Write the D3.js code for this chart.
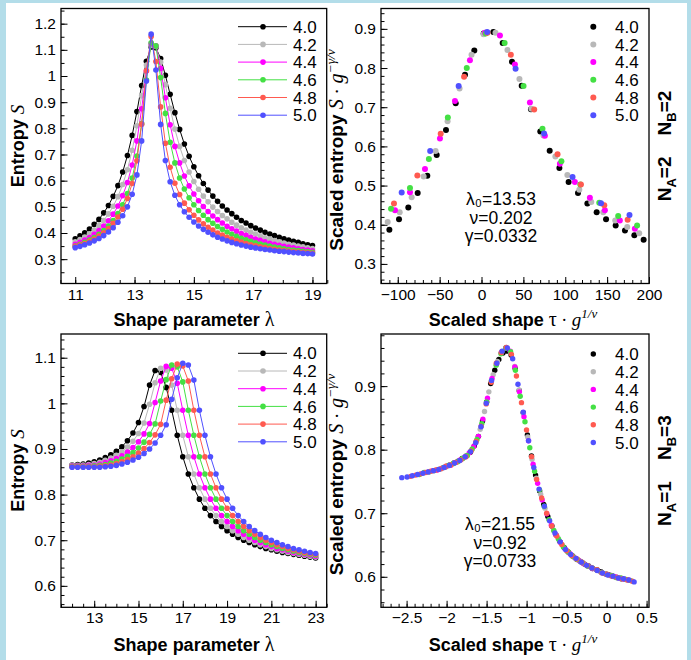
<!DOCTYPE html>
<html>
<head>
<meta charset="utf-8">
<script src="https://cdn.jsdelivr.net/npm/d3@7"></script>
<style>
body { margin: 0; background: #b3dde9; }
svg { display: block; }
text { font-family: "Liberation Sans", Arial, Helvetica, sans-serif; fill: #000; }
</style>
</head>
<body>
<svg id="chart" width="691" height="660"></svg>
<script>
// series names (legend) and colours
const seriesLabels = ['4.0', '4.2', '4.4', '4.6', '4.8', '5.0'];
const seriesColors = ['#000000', '#b8b8b8', '#ff00ff', '#44e044', '#ff5a50', '#5050ff'];

// ---- top left: entropy vs shape parameter (NA=2, NB=2)
const lambdaTop = [11.00,11.16,11.32,11.48,11.64,11.80,11.96,12.12,12.28,12.44,12.60,12.76,12.92,13.08,13.24,13.40,13.56,13.72,13.88,14.04,14.20,14.36,14.52,14.68,14.84,15.00,15.16,15.32,15.48,15.64,15.80,15.96,16.12,16.28,16.44,16.60,16.76,16.92,17.08,17.24,17.40,17.56,17.72,17.88,18.04,18.20,18.36,18.52,18.68,18.84,19.00];
const sTop40 = [.378,.389,.401,.415,.433,.452,.477,.505,.540,.581,.633,.696,.773,.864,.964,1.056,1.111,1.108,1.067,1.003,.930,.860,.796,.740,.693,.653,.619,.589,.564,.541,.521,.503,.488,.474,.460,.448,.438,.428,.419,.411,.403,.396,.390,.384,.378,.373,.368,.364,.359,.355,.352];
const sTop42 = [.366,.375,.385,.397,.411,.428,.448,.473,.502,.539,.585,.642,.716,.810,.925,1.042,1.117,1.113,1.053,.967,.877,.797,.731,.677,.633,.597,.567,.541,.519,.499,.482,.467,.454,.441,.430,.420,.411,.403,.396,.389,.382,.377,.371,.366,.362,.357,.354,.350,.347,.343,.341];
const sTop44 = [.357,.364,.373,.383,.395,.409,.427,.447,.472,.503,.543,.593,.660,.752,.875,1.019,1.123,1.115,1.029,.917,.814,.731,.668,.618,.580,.549,.523,.501,.482,.465,.451,.438,.426,.416,.407,.398,.391,.384,.377,.372,.366,.361,.357,.353,.349,.346,.343,.340,.337,.335,.332];
const sTop46 = [.350,.357,.364,.373,.383,.395,.409,.427,.448,.474,.508,.551,.610,.694,.818,.985,1.127,1.115,.994,.857,.747,.668,.610,.568,.535,.508,.486,.468,.451,.437,.425,.414,.404,.395,.387,.380,.374,.368,.363,.358,.354,.350,.346,.343,.340,.337,.335,.333,.330,.328,.326];
const sTop48 = [.348,.354,.360,.368,.377,.388,.401,.417,.437,.461,.491,.532,.589,.676,.816,1.020,1.151,1.055,.882,.743,.651,.590,.547,.514,.489,.468,.450,.435,.422,.411,.400,.392,.384,.377,.370,.365,.360,.355,.351,.347,.344,.341,.338,.335,.333,.331,.329,.327,.325,.324,.322];
const sTop50 = [.344,.349,.355,.362,.370,.379,.390,.404,.420,.441,.466,.500,.548,.622,.752,.981,1.160,1.023,.815,.677,.596,.544,.508,.481,.460,.442,.427,.414,.403,.393,.384,.377,.370,.364,.359,.354,.350,.346,.343,.340,.337,.335,.332,.330,.329,.327,.325,.324,.322,.321,.320];

// ---- top right: scaled entropy vs scaled shape [x, y]
const tr40 = [[-110,.387],[-98.5,.414],[-87.4,.444],[-76.2,.481],[-64.7,.525],[-53.5,.578],[-42.4,.642],[-30.8,.710],[-19.7,.783],[-8.6,.845],[2.6,.888],[14.1,.892],[25.3,.864],[36.4,.816],[48,.755],[59.1,.695],[70.2,.638],[81.4,.589],[93,.545],[104,.509],[115.2,.481],[126.4,.454],[137.5,.432],[148.7,.414],[160.2,.398],[171.3,.385],[182.5,.373],[193.6,.362]];
const tr42 = [[-112,.407],[-97.7,.432],[-83.4,.470],[-69.1,.523],[-54.8,.588],[-40.5,.664],[-26.2,.748],[-11.9,.834],[2.4,.886],[16.7,.890],[31,.846],[45.3,.772],[59.6,.696],[73.9,.628],[88.2,.574],[102.5,.527],[116.8,.489],[131.1,.458],[145.4,.432],[159.7,.411],[174,.394],[188.3,.378]];
const tr44 = [[-103.3,.437],[-85.4,.483],[-67.5,.542],[-49.6,.620],[-31.7,.716],[-13.8,.820],[4.1,.890],[22,.883],[39.9,.809],[57.8,.712],[75.7,.627],[93.6,.556],[111.5,.509],[129.4,.469],[147.3,.437],[165.2,.411],[183.1,.390]];
const tr46 = [[-108,.441],[-85.4,.494],[-62.8,.568],[-40.2,.674],[-17.6,.800],[5,.888],[27.6,.864],[50.2,.754],[72.8,.645],[95.4,.562],[118,.503],[140.6,.456],[163.2,.422],[185.8,.398]];
const tr48 = [[-104.5,.454],[-76.6,.526],[-48.7,.632],[-20.8,.778],[7.1,.890],[35,.834],[62.9,.694],[90.8,.580],[118.7,.503],[146.6,.450],[174.5,.413]];
const tr50 = [[-95.3,.482],[-61.3,.588],[-27.3,.754],[6.7,.892],[40.7,.798],[74.7,.633],[108.7,.522],[142.7,.455],[176.7,.425]];

// ---- bottom left: entropy vs shape parameter (NA=1, NB=3)
const lambdaBottom = [12,12.25,12.5,12.75,13,13.25,13.5,13.75,14,14.25,14.5,14.75,15,15.25,15.5,15.75,16,16.25,16.5,16.75,17,17.25,17.5,17.75,18,18.25,18.5,18.75,19,19.25,19.5,19.75,20,20.25,20.5,20.75,21,21.25,21.5,21.75,22,22.25,22.5,22.75,23];
const sBot40 = [.865,.866,.867,.869,.872,.876,.881,.887,.895,.905,.918,.935,.958,.993,1.040,1.072,1.068,1.035,.985,.930,.883,.845,.815,.790,.770,.754,.741,.730,.721,.713,.706,.700,.695,.690,.686,.682,.679,.676,.673,.671,.669,.667,.665,.663,.661];
const sBot42 = [.864,.864,.865,.866,.868,.871,.875,.880,.886,.894,.904,.917,.934,.957,.998,1.045,1.077,1.073,1.040,.985,.930,.883,.845,.815,.790,.770,.754,.741,.730,.721,.713,.706,.700,.695,.690,.686,.682,.679,.676,.673,.671,.669,.667,.665,.663];
const sBot44 = [.863,.863,.863,.864,.865,.867,.870,.874,.879,.885,.893,.903,.916,.933,.956,1.002,1.049,1.081,1.077,1.044,.985,.930,.883,.845,.815,.790,.770,.754,.741,.730,.721,.713,.706,.700,.695,.690,.686,.682,.679,.676,.673,.671,.669,.667,.665];
const sBot46 = [.862,.862,.862,.862,.863,.864,.866,.869,.873,.878,.884,.892,.902,.915,.932,.955,1.005,1.052,1.084,1.080,1.047,.985,.930,.883,.845,.815,.790,.770,.754,.741,.730,.721,.713,.706,.700,.695,.690,.686,.682,.679,.676,.673,.671,.669,.667];
const sBot48 = [.861,.861,.861,.861,.861,.862,.863,.865,.868,.872,.877,.883,.891,.901,.914,.931,.954,1.007,1.054,1.086,1.082,1.049,.985,.930,.883,.845,.815,.790,.770,.754,.741,.730,.721,.713,.706,.700,.695,.690,.686,.682,.679,.676,.673,.671,.669];
const sBot50 = [.860,.860,.860,.860,.860,.860,.861,.862,.864,.867,.871,.876,.882,.890,.900,.913,.930,.953,1.009,1.056,1.088,1.084,1.051,.985,.930,.883,.845,.815,.790,.770,.754,.741,.730,.721,.713,.706,.700,.695,.690,.686,.682,.679,.676,.673,.671];

// ---- bottom right: scaled entropy vs scaled shape [x, y]
const br40 = [[-2.010,.773],[-1.959,.776],[-1.908,.779],[-1.857,.782],[-1.806,.786],[-1.755,.790],[-1.704,.796],[-1.653,.806],[-1.602,.821],[-1.551,.845],[-1.500,.875],[-1.449,.904],[-1.398,.925],[-1.347,.942],[-1.296,.952],[-1.245,.955],[-1.194,.949],[-1.143,.928],[-1.092,.893],[-1.041,.858],[-0.990,.823],[-0.939,.790],[-0.888,.760],[-0.837,.735],[-0.786,.714],[-0.735,.695],[-0.684,.680],[-0.633,.666],[-0.582,.655],[-0.531,.646],[-0.480,.639],[-0.429,.633],[-0.378,.628],[-0.327,.624],[-0.276,.620],[-0.225,.617],[-0.174,.613],[-0.123,.611],[-0.072,.608],[-0.021,.605],[0.030,.603],[0.081,.601],[0.132,.599],[0.183,.597],[0.234,.596]];
const br42 = [[-2.120,.768],[-2.066,.770],[-2.012,.773],[-1.958,.776],[-1.904,.779],[-1.850,.782],[-1.796,.786],[-1.742,.791],[-1.688,.799],[-1.634,.812],[-1.580,.832],[-1.526,.860],[-1.472,.891],[-1.418,.918],[-1.364,.939],[-1.310,.954],[-1.256,.961],[-1.202,.954],[-1.148,.931],[-1.094,.894],[-1.040,.857],[-0.986,.820],[-0.932,.785],[-0.878,.755],[-0.824,.730],[-0.770,.708],[-0.716,.689],[-0.662,.673],[-0.608,.661],[-0.554,.650],[-0.500,.641],[-0.446,.635],[-0.392,.629],[-0.338,.625],[-0.284,.621],[-0.230,.617],[-0.176,.613],[-0.122,.611],[-0.068,.607],[-0.014,.605],[0.040,.602],[0.094,.600],[0.148,.598],[0.202,.597],[0.256,.595]];
const br44 = [[-2.230,.765],[-2.173,.767],[-2.116,.768],[-2.059,.771],[-2.002,.774],[-1.945,.776],[-1.888,.780],[-1.831,.784],[-1.774,.788],[-1.717,.795],[-1.660,.805],[-1.603,.821],[-1.546,.848],[-1.489,.881],[-1.432,.912],[-1.375,.935],[-1.318,.952],[-1.261,.960],[-1.204,.955],[-1.147,.930],[-1.090,.891],[-1.033,.852],[-0.976,.814],[-0.919,.777],[-0.862,.747],[-0.805,.721],[-0.748,.699],[-0.691,.681],[-0.634,.666],[-0.577,.654],[-0.520,.644],[-0.463,.637],[-0.406,.631],[-0.349,.626],[-0.292,.621],[-0.235,.617],[-0.178,.613],[-0.121,.611],[-0.064,.607],[-0.007,.604],[0.050,.602],[0.107,.600],[0.164,.598],[0.221,.596],[0.278,.595]];
const br46 = [[-2.34,.761],[-2.28,.764],[-2.22,.765],[-2.16,.767],[-2.10,.769],[-2.04,.772],[-1.98,.775],[-1.92,.778],[-1.86,.781],[-1.80,.786],[-1.74,.791],[-1.68,.801],[-1.62,.816],[-1.56,.841],[-1.50,.875],[-1.44,.908],[-1.38,.933],[-1.32,.951],[-1.26,.960],[-1.20,.954],[-1.14,.925],[-1.08,.884],[-1.02,.844],[-0.96,.803],[-0.90,.766],[-0.84,.737],[-0.78,.711],[-0.72,.690],[-0.66,.673],[-0.60,.659],[-0.54,.647],[-0.48,.639],[-0.42,.632],[-0.36,.627],[-0.30,.622],[-0.24,.617],[-0.18,.614],[-0.12,.611],[-0.06,.607],[0.00,.604],[0.06,.602],[0.12,.599],[0.18,.598],[0.24,.596],[0.30,.594]];
const br48 = [[-2.450,.758],[-2.387,.760],[-2.324,.762],[-2.261,.764],[-2.198,.766],[-2.135,.768],[-2.072,.770],[-2.009,.774],[-1.946,.776],[-1.883,.780],[-1.820,.784],[-1.757,.789],[-1.694,.798],[-1.631,.813],[-1.568,.837],[-1.505,.872],[-1.442,.906],[-1.379,.936],[-1.316,.953],[-1.253,.961],[-1.190,.950],[-1.127,.916],[-1.064,.874],[-1.001,.831],[-0.938,.789],[-0.875,.753],[-0.812,.724],[-0.749,.700],[-0.686,.680],[-0.623,.664],[-0.560,.651],[-0.497,.641],[-0.434,.633],[-0.371,.628],[-0.308,.623],[-0.245,.618],[-0.182,.614],[-0.119,.611],[-0.056,.606],[0.007,.604],[0.070,.601],[0.133,.599],[0.196,.597],[0.259,.595],[0.322,.593]];
const br50 = [[-2.560,.756],[-2.494,.757],[-2.428,.759],[-2.362,.761],[-2.296,.763],[-2.230,.765],[-2.164,.767],[-2.098,.769],[-2.032,.772],[-1.966,.775],[-1.900,.779],[-1.834,.783],[-1.768,.789],[-1.702,.797],[-1.636,.811],[-1.570,.836],[-1.504,.873],[-1.438,.909],[-1.372,.936],[-1.306,.955],[-1.240,.960],[-1.174,.943],[-1.108,.903],[-1.042,.859],[-0.976,.814],[-0.910,.772],[-0.844,.738],[-0.778,.711],[-0.712,.688],[-0.646,.669],[-0.580,.655],[-0.514,.643],[-0.448,.635],[-0.382,.629],[-0.316,.623],[-0.250,.618],[-0.184,.614],[-0.118,.610],[-0.052,.606],[0.014,.603],[0.080,.601],[0.146,.598],[0.212,.597],[0.278,.595],[0.344,.592]];

// tick labels
const tlXTicks = [11, 13, 15, 17, 19];
const tlYTicks = [0.3, 0.4, 0.5, 0.6, 0.7, 0.8, 0.9, 1.0, 1.1, 1.2];
const trXTicks = [-100, -50, 0, 50, 100, 150, 200];
const trYTicks = [0.3, 0.4, 0.5, 0.6, 0.7, 0.8, 0.9];
const blXTicks = [13, 15, 17, 19, 21, 23];
const blYTicks = [0.6, 0.7, 0.8, 0.9, 1.0, 1.1];
const brXTicks = [-2.5, -2, -1.5, -1, -0.5, 0, 0.5];
const brYTicks = [0.6, 0.7, 0.8, 0.9];

const svg = d3.select('#chart');
svg.append('rect').attr('x', 6).attr('y', 3).attr('width', 681).attr('height', 657).attr('fill', '#fff');

const fmt = d3.format('~g');

function zip(xs, ys) { return xs.map((v, i) => [v, ys[i]]); }

function drawPanel(p) {
  const g = svg.append('g');
  const x = d3.scaleLinear().domain(p.xDomain).range([p.x0, p.x1]);
  const y = d3.scaleLinear().domain(p.yDomain).range([p.y1, p.y0]);

  // minor ticks first, then the labelled ones
  g.append('g').attr('transform', `translate(0,${p.y1})`)
    .call(d3.axisBottom(x).tickValues(p.xMinor).tickSize(-3.5).tickSizeOuter(0).tickFormat(''));
  g.append('g').attr('transform', `translate(${p.x0},0)`)
    .call(d3.axisLeft(y).tickValues(p.yMinor).tickSize(-3.5).tickSizeOuter(0).tickFormat(''));
  g.append('g').attr('transform', `translate(0,${p.y1})`)
    .call(d3.axisBottom(x).tickValues(p.xTicks).tickSize(-6.5).tickSizeOuter(0).tickPadding(5).tickFormat(fmt));
  g.append('g').attr('transform', `translate(${p.x0},0)`)
    .call(d3.axisLeft(y).tickValues(p.yTicks).tickSize(-6.5).tickSizeOuter(0).tickPadding(5).tickFormat(fmt));
  g.selectAll('.domain').remove();
  g.selectAll('.tick line').attr('stroke', '#000').attr('stroke-width', 1);
  g.selectAll('.tick text').attr('font-size', 15.5).attr('font-family', '"Liberation Sans", Arial, sans-serif');

  p.series.forEach((pts, k) => {
    if (p.lines) {
      g.append('path').datum(pts)
        .attr('fill', 'none').attr('stroke', seriesColors[k]).attr('stroke-width', 1)
        .attr('d', d3.line().x(d => x(d[0])).y(d => y(d[1])));
    }
    g.append('g').selectAll('circle').data(pts).join('circle')
      .attr('cx', d => x(d[0])).attr('cy', d => y(d[1])).attr('r', p.r)
      .attr('fill', seriesColors[k]);
  });

  // legend
  const lg = g.append('g');
  seriesLabels.forEach((lab, k) => {
    const yy = p.legY + k * 17.7;
    if (p.lines) {
      lg.append('line').attr('x1', p.legX - 25).attr('x2', p.legX + 24).attr('y1', yy).attr('y2', yy)
        .attr('stroke', seriesColors[k]).attr('stroke-width', 1);
    }
    lg.append('circle').attr('cx', p.legX).attr('cy', yy).attr('r', p.r).attr('fill', seriesColors[k]);
    lg.append('text').attr('x', p.legText).attr('y', yy).attr('dy', '0.36em')
      .attr('font-size', 17).text(lab);
  });

  g.append('rect').attr('x', p.x0).attr('y', p.y0)
    .attr('width', p.x1 - p.x0).attr('height', p.y1 - p.y0)
    .attr('fill', 'none').attr('stroke', '#000').attr('stroke-width', 1.3);
  return g;
}

const topY0 = 8.5, topY1 = 283.5, botY0 = 334, botY1 = 607.3;

drawPanel({
  x0: 61, x1: 326.7, y0: topY0, y1: topY1,
  xDomain: [10.52, 19.48], yDomain: [0.207, 1.258],
  xTicks: tlXTicks, yTicks: tlYTicks,
  xMinor: d3.range(10.5, 19.6, 0.5), yMinor: d3.range(0.25, 1.26, 0.05),
  series: [sTop40, sTop42, sTop44, sTop46, sTop48, sTop50].map(s => zip(lambdaTop, s)),
  lines: true, r: 2.8, legX: 263, legText: 293, legY: 26.7
});
drawPanel({
  x0: 381, x1: 649, y0: topY0, y1: topY1,
  xDomain: [-120, 200], yDomain: [0.25, 0.952],
  xTicks: trXTicks, yTicks: trYTicks,
  xMinor: d3.range(-120, 201, 10), yMinor: d3.range(0.26, 0.95, 0.02),
  series: [tr40, tr42, tr44, tr46, tr48, tr50],
  lines: false, r: 3, legX: 593.3, legText: 615, legY: 26.7
});
drawPanel({
  x0: 61, x1: 326.7, y0: botY0, y1: botY1,
  xDomain: [11.5, 23.5], yDomain: [0.553, 1.152],
  xTicks: blXTicks, yTicks: blYTicks,
  xMinor: d3.range(11.5, 23.6, 0.5), yMinor: d3.range(0.56, 1.15, 0.02),
  series: [sBot40, sBot42, sBot44, sBot46, sBot48, sBot50].map(s => zip(lambdaBottom, s)),
  lines: true, r: 2.8, legX: 263, legText: 293, legY: 353.3
});
drawPanel({
  x0: 381, x1: 649, y0: botY0, y1: botY1,
  xDomain: [-2.82, 0.53], yDomain: [0.552, 0.982],
  xTicks: brXTicks, yTicks: brYTicks,
  xMinor: d3.range(-2.8, 0.51, 0.1), yMinor: d3.range(0.56, 0.981, 0.02),
  series: [br40, br42, br44, br46, br48, br50],
  lines: false, r: 2.7, legX: 593.3, legText: 615, legY: 354
});

// ---- axis titles and labels
const serif = '"Liberation Serif", "DejaVu Serif", serif';

function entropyTitle(cx, cy) {
  const t = svg.append('text').attr('transform', `translate(${cx},${cy}) rotate(-90)`)
    .attr('text-anchor', 'middle').attr('font-size', 18).attr('font-weight', 'bold');
  t.append('tspan').text('Entropy ');
  t.append('tspan').attr('font-family', serif).attr('font-style', 'italic').attr('font-weight', 'normal').attr('font-size', 19).text('S');
}
function shapeTitle(cx, cy) {
  const t = svg.append('text').attr('x', cx).attr('y', cy)
    .attr('text-anchor', 'middle').attr('font-size', 18).attr('font-weight', 'bold');
  t.append('tspan').text('Shape parameter ');
  t.append('tspan').attr('font-family', serif).attr('font-weight', 'normal').attr('font-size', 20).text('λ');
}
function scaledEntropyTitle(cx, cy) {
  const t = svg.append('text').attr('transform', `translate(${cx},${cy}) rotate(-90)`)
    .attr('text-anchor', 'middle').attr('font-size', 19).attr('font-weight', 'bold');
  t.append('tspan').text('Scaled entropy ');
  t.append('tspan').attr('font-family', serif).attr('font-style', 'italic').attr('font-weight', 'normal').attr('font-size', 20).text('S');
  t.append('tspan').attr('font-family', serif).attr('font-weight', 'normal').text(' · ');
  t.append('tspan').attr('font-family', serif).attr('font-style', 'italic').attr('font-weight', 'normal').attr('font-size', 20).text('g');
  t.append('tspan').attr('font-family', serif).attr('font-style', 'italic').attr('font-weight', 'normal')
    .attr('font-size', 13.5).attr('dy', -8).text('−γ/ν');
}
function scaledShapeTitle(cx, cy) {
  const t = svg.append('text').attr('x', cx).attr('y', cy)
    .attr('text-anchor', 'middle').attr('font-size', 18).attr('font-weight', 'bold');
  t.append('tspan').text('Scaled shape ');
  t.append('tspan').attr('font-family', serif).attr('font-weight', 'normal').attr('font-size', 20).text('τ');
  t.append('tspan').attr('font-family', serif).attr('font-weight', 'normal').text(' · ');
  t.append('tspan').attr('font-family', serif).attr('font-style', 'italic').attr('font-weight', 'normal').attr('font-size', 19).text('g');
  t.append('tspan').attr('font-family', serif).attr('font-style', 'italic').attr('font-weight', 'normal')
    .attr('font-size', 13).attr('dy', -8).text('1/ν');
}
function systemLabel(cx, cy, na, nb) {
  const t = svg.append('text').attr('transform', `translate(${cx},${cy}) rotate(-90)`)
    .attr('text-anchor', 'middle').attr('font-size', 19).attr('font-weight', 'bold');
  t.append('tspan').text('N');
  t.append('tspan').attr('font-size', 13).attr('dy', 5).text('A');
  t.append('tspan').attr('dy', -5).text('=' + na + '\u00a0\u00a0\u00a0\u00a0N');
  t.append('tspan').attr('font-size', 13).attr('dy', 5).text('B');
  t.append('tspan').attr('dy', -5).text('=' + nb);
}
function fitBox(cx, y0, lam0, nu, gam) {
  const lines = ['λ\u2080=' + lam0, 'ν=' + nu, 'γ=' + gam];
  lines.forEach((l, i) => {
    svg.append('text').attr('x', cx).attr('y', y0 + i * 18.6)
      .attr('text-anchor', 'middle').attr('font-size', 17.5).text(l);
  });
}

entropyTitle(24, 146);
shapeTitle(194, 326);
scaledEntropyTitle(343, 150);
scaledShapeTitle(513, 326);
systemLabel(671, 146, 2, 2);
fitBox(501, 205, '13.53', '0.202', '0.0332');

entropyTitle(24, 470.6);
shapeTitle(194, 651);
scaledEntropyTitle(343, 474.6);
scaledShapeTitle(513, 651);
systemLabel(671, 470.6, 1, 3);
fitBox(500, 530, '21.55', '0.92', '0.0733');
</script>
</body>
</html>
